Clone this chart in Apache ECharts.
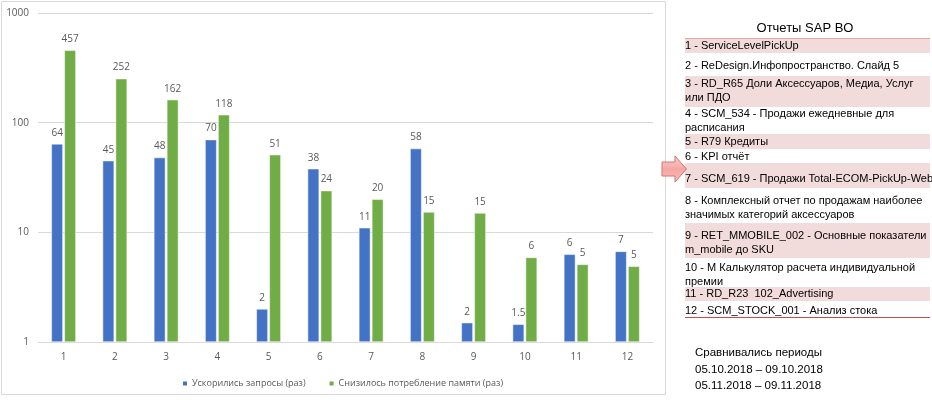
<!DOCTYPE html>
<html>
<head>
<meta charset="utf-8">
<script src="https://cdn.jsdelivr.net/npm/echarts@6/dist/echarts.min.js"></script>
<style>
html,body{margin:0;padding:0;background:#fff;}
#c{width:932px;height:400px;}
</style>
</head>
<body>
<div id="c"></div>
<script>
const categories = ['1','2','3','4','5','6','7','8','9','10','11','12'];
const seriesNames = ['Ускорились запросы (раз)', 'Снизилось потребление памяти (раз)'];
const speedValues = [64, 45, 48, 70, 2, 38, 11, 58, 1.5, 1.45, 6.3, 6.7];
const speedLabels = ['64','45','48','70','2','38','11','58','2','1.5','6','7'];
const memoryValues = [457, 252, 162, 118, 51, 24, 20, 15.3, 15, 5.9, 5.1, 4.9];
const memoryLabels = ['457','252','162','118','51','24','20','15','15','6','5','5'];
const yTicks = [1, 10, 100, 1000];

const reportsTitle = 'Отчеты SAP BO';
const reportLines = [
  ['1 - ServiceLevelPickUp'],
  ['2 - ReDesign.Инфопространство. Слайд 5'],
  ['3 - RD_R65 Доли Аксессуаров, Медиа, Услуг', 'или ПДО'],
  ['4 - SCM_534 - Продажи ежедневные для', 'расписания'],
  ['5 - R79 Кредиты'],
  ['6 - KPI отчёт'],
  ['7 - SCM_619 - Продажи Total-ECOM-PickUp-Web'],
  ['8 - Комплексный отчет по продажам наиболее', 'значимых категорий аксессуаров'],
  ['9 - RET_MMOBILE_002 - Основные показатели', 'm_mobile до SKU'],
  ['10 - M Калькулятор расчета индивидуальной', 'премии'],
  ['11 - RD_R23  102_Advertising'],
  ['12 - SCM_STOCK_001 - Анализ стока']
];
const periodLines = ['Сравнивались периоды', '05.10.2018 – 09.10.2018', '05.11.2018 – 09.11.2018'];

// layout of the right panel (positions only)
const rowLayout = [
  {y:[46], band:[39,53]},
  {y:[66]},
  {y:[84,98], band:[76,107]},
  {y:[114,128]},
  {y:[142], band:[134,149]},
  {y:[157]},
  {y:[179], band:[163,188]},
  {y:[201,215]},
  {y:[236,250], band:[223,258]},
  {y:[268,282]},
  {y:[294], band:[287,301]},
  {y:[311]}
];

const chart = echarts.init(document.getElementById('c'));
const panelFont = '"Liberation Sans", Arial, sans-serif';
const graphics = [];
graphics.push({type:'rect', shape:{x:1.5,y:1.5,width:664,height:393}, style:{fill:'none', stroke:'#d9d9d9', lineWidth:1}, silent:true, z:-1});
rowLayout.forEach((r, i) => {
  if (r.band) {
    graphics.push({type:'rect', shape:{x:685, y:r.band[0], width:245, height:r.band[1]-r.band[0]}, style:{fill:'#f2dcdb'}, z:0});
  }
  reportLines[i].forEach((t, j) => {
    graphics.push({type:'text', x:685, y:r.y[j], style:{text:t, font:'11px ' + panelFont, fill:'#000', textVerticalAlign:'middle', textBaseline:'middle'}, z:2});
  });
});
graphics.push({type:'line', shape:{x1:685,y1:38.5,x2:930,y2:38.5}, style:{stroke:'#e6a6a4', lineWidth:1.2}, z:3});
graphics.push({type:'line', shape:{x1:685,y1:317.5,x2:930,y2:317.5}, style:{stroke:'#c0504d', lineWidth:1}, z:3});
graphics.push({type:'text', x:805, y:28, style:{text:reportsTitle, font:'13px ' + panelFont, fill:'#000', textAlign:'center', textVerticalAlign:'middle', textBaseline:'middle'}, z:2});
periodLines.forEach((t, i) => {
  graphics.push({type:'text', x:695, y:353 + i*16.5, style:{text:t, font:'11.5px ' + panelFont, fill:'#000', textVerticalAlign:'middle', textBaseline:'middle'}, z:2});
});
graphics.push({type:'polygon', shape:{points:[[662,162],[675,162],[675,156],[686.5,169],[675,182],[675,176],[662,176]]},
  style:{fill:new echarts.graphic.LinearGradient(0,0,0,1,[{offset:0,color:'#fbd3d1'},{offset:0.5,color:'#f4a7a4'},{offset:1,color:'#f6bcb9'}]), stroke:'#d9726d', lineWidth:1}, z:4});

const axisFont = '"Open Sans", "Noto Sans", sans-serif';
chart.setOption({
  animation:false,
  backgroundColor:'#fff',
  grid:{left:38, right:279, top:13, bottom:58, containLabel:false},
  legend:{
    data:seriesNames, left:176, top:374, itemWidth:6, itemHeight:6, itemGap:22,
    icon:'rect',
    textStyle:{color:'#595959', fontSize:9, fontFamily:axisFont, padding:[0,0,0,-1]}
  },
  xAxis:{
    type:'category', data:categories,
    axisLine:{show:true, lineStyle:{color:'#d9d9d9', width:1}},
    axisTick:{show:false},
    axisLabel:{color:'#595959', fontSize:10, fontFamily:axisFont, margin:10}
  },
  yAxis:{
    type:'log', logBase:10, min:1, max:1000,
    axisLine:{show:false}, axisTick:{show:false},
    splitLine:{lineStyle:{color:'#d9d9d9', width:1}},
    axisLabel:{color:'#595959', fontSize:10, fontFamily:axisFont, margin:9,
      formatter:(v)=> yTicks.indexOf(Math.round(v))>=0 ? String(Math.round(v)) : ''}
  },
  series:[
    {name:seriesNames[0], type:'bar', data:speedValues, barWidth:11.5, barGap:'13%',
     itemStyle:{color:'#4472c4', borderColor:'#fff', borderWidth:0.5},
     label:{show:true, position:'top', distance:6, color:'#595959', fontSize:10, fontFamily:axisFont,
       formatter:(p)=>speedLabels[p.dataIndex]}},
    {name:seriesNames[1], type:'bar', data:memoryValues, barWidth:11.5, barGap:'13%',
     itemStyle:{color:'#70ad47', borderColor:'#fff', borderWidth:0.5},
     label:{show:true, position:'top', distance:6, color:'#595959', fontSize:10, fontFamily:axisFont,
       formatter:(p)=>memoryLabels[p.dataIndex]}}
  ],
  graphic:graphics
});
</script>
</body>
</html>
